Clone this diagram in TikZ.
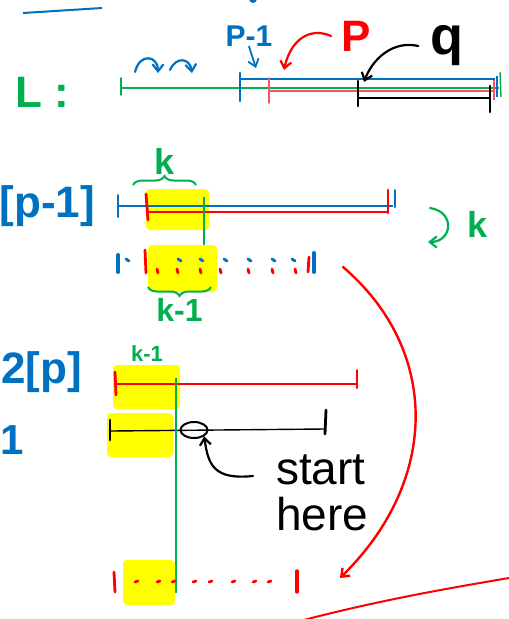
\documentclass[tikz,border=0pt]{standalone}
\usepackage{fontspec}
\setmainfont{Liberation Sans}
\usetikzlibrary{arrows.meta, positioning, decorations.pathreplacing, shapes.geometric}
\definecolor{inkblue}{RGB}{0,112,192}
\definecolor{inkgreen}{RGB}{0,176,80}
\definecolor{inkred}{RGB}{255,0,0}
\definecolor{inkpink}{RGB}{255,80,100}
\definecolor{hlyellow}{RGB}{255,255,0}

\begin{document}
\begin{tikzpicture}[x=1pt, y=-1pt,
  seg/.style={line width=1.4pt},
  tick/.style={line width=2.8pt, line cap=round},
  hl/.style={fill=hlyellow, draw=none, rounded corners=4pt},
  arr/.style={-{Straight Barb[length=7pt, width=11pt]}, line width=2.2pt, line cap=round},
  lbl/.style={inner sep=0pt, font=\fontsize{#1}{#1}\selectfont\bfseries},
  dot/.style={line width=2.8pt, line cap=round},
  brc/.style={decorate, decoration={brace, amplitude=9pt}, line width=2pt, inkgreen}
]
\clip (0,0) rectangle (509,619);
\draw[inkblue, line width=2pt] (23,13) -- (102,8);
\fill[inkblue] (253,-1) circle (4pt);

% L
\node[lbl=44, text=inkgreen] (L) at (42,92) {L :};
\draw[seg, inkgreen] (121,88) -- (499,88);
\draw[tick, inkgreen, line width=1.8pt] (121,78) -- (121,95);
\draw[seg, inkblue] (240,79) -- (495,79);
\draw[tick, inkblue] (240,73) -- (240,101);
\draw[seg, inkpink] (269,91) -- (494,91);
\draw[tick, inkpink, line width=1.6pt] (269,78) -- (269,103);
\draw[seg] (358,98) -- (490,98);
\draw[tick] (358,81) -- (358,106);
\draw[tick] (490,86) -- (490,112);
\draw[seg, inkgreen] (500,72) -- (501,97);
\draw[seg, inkblue] (497,76) -- (497,97);
\draw[seg, inkpink] (494,80) -- (494,100);
\draw[arr, inkblue] (135,72) .. controls (140,52) and (158,56) .. (158,73);
\draw[arr, inkblue] (170,70) .. controls (176,56) and (190,58) .. (192,73);
\node[lbl=30, text=inkblue] (pm1) at (249,36) {P-1};
\coordinate (pm1tip) at (256,68);
\draw[arr, inkblue, line width=1.8pt] (pm1.south) -- (pm1tip);
\node[lbl=44, text=inkred, inner sep=10pt] (P) at (356,36) {P};
\coordinate (ptip) at (284,70);
\draw[arr, inkred] (P.west) .. controls (308,26) and (290,42) .. (ptip);
\node[lbl=54, inner sep=12pt] (q) at (447,46) {q};
\coordinate (qtip) at (364,82);
\draw[arr] (q.west) .. controls (392,40) and (372,60) .. (qtip);

% L[p-1]
\fill[hl] (146,189) rectangle (209,230);
\node[lbl=44, text=inkblue, anchor=east] (Lp1) at (95,206) {[p-1]};
\draw[seg, inkblue] (119,206) -- (393,206);
\draw[tick, inkblue, line width=2pt] (118,195) -- (118,217);
\draw[tick, inkblue, line width=2pt] (395,190) -- (395,207);
\draw[seg, inkred] (148,212) -- (388,212);
\draw[tick, inkred] (146,194) -- (148,220);
\draw[tick, inkred] (388,190) -- (388,213);
\draw[brc] (133,185) -- (196,185) node[midway, above=10pt, lbl=36, text=inkgreen] (kTop) {k};
\draw[inkgreen, line width=2.6pt] (204,197) -- (204,263);
\draw[arr, inkgreen] (430,208) .. controls (456,212) and (452,242) .. (428,242);
\node[lbl=36, text=inkgreen] (kR) at (478,224) {k};

% dotted copy
\fill[hl] (148,245) rectangle (217,292);
\draw[tick, inkblue, line width=4pt] (118,255) -- (118,272);
\draw[tick, inkblue, line width=4pt] (314,253) -- (314,272);
\draw[tick, inkred] (145,250) -- (146,273);
\draw[tick, inkred] (309,257) -- (308,272);
\foreach \x in {157,177,200,220,248,272,295}
  \draw[dot, inkred] (\x,269) -- (\x+1,273);
\foreach \x in {126,178,200,224,248,272,292}
  \draw[dot, inkblue] (\x,259) -- (\x+3,261);
\draw[brc] (211,287) -- (148,287) node[midway, below=10pt, lbl=32, text=inkgreen] (kBot) {k-1};
\coordinate (lift) at (343,267);
\coordinate (drop) at (340,578);
\draw[arr, inkred, line width=2.4pt] (lift) .. controls (440,350) and (440,480) .. (drop);

% L2[p]
\fill[hl] (113,365) rectangle (180,409);
\fill[hl] (107,413) rectangle (173,457);
\node[lbl=44, text=inkblue, anchor=east] (L2p) at (82,372) {2[p]};
\node[lbl=42, text=inkblue, anchor=west] (L1) at (0,440) {1};
\node[lbl=22, text=inkgreen] (kSmall) at (147,354) {k-1};
\draw[seg, inkred] (116,384) -- (356,384);
\draw[tick, inkred] (115,372) -- (116,395);
\draw[tick, inkred, line width=2pt] (357,370) -- (357,388);
\draw[seg] (111,431) -- (325,429);
\draw[tick] (110,420) -- (110,440);
\draw[tick] (326,410) -- (325,434);
\node[ellipse, draw, line width=2pt, minimum width=27pt, minimum height=16pt, inner sep=0pt] (here) at (194,430) {};
\draw[inkgreen, line width=1.4pt] (176,378) -- (176,593);
\node[lbl=46, align=left, anchor=west, font=\fontsize{46}{46}\selectfont] (start) at (276,493) {start\\here};
\coordinate (sh) at (253,476);
\draw[arr] (sh) .. controls (214,480) and (208,465) .. (here.south east);

% bottom row
\fill[hl] (123,560) rectangle (175,605);
\draw[tick, inkred] (114,572) -- (115,592);
\draw[tick, inkred, line width=3.4pt] (297,571) -- (297,592);
\foreach \x in {135,157,172,193,209,232,253,268}
  \draw[dot, inkred] (\x,582) -- (\x+3,581);
\draw[inkred, line width=2pt] (300,621) .. controls (380,600) and (450,588) .. (509,578);
\end{tikzpicture}
\end{document}
